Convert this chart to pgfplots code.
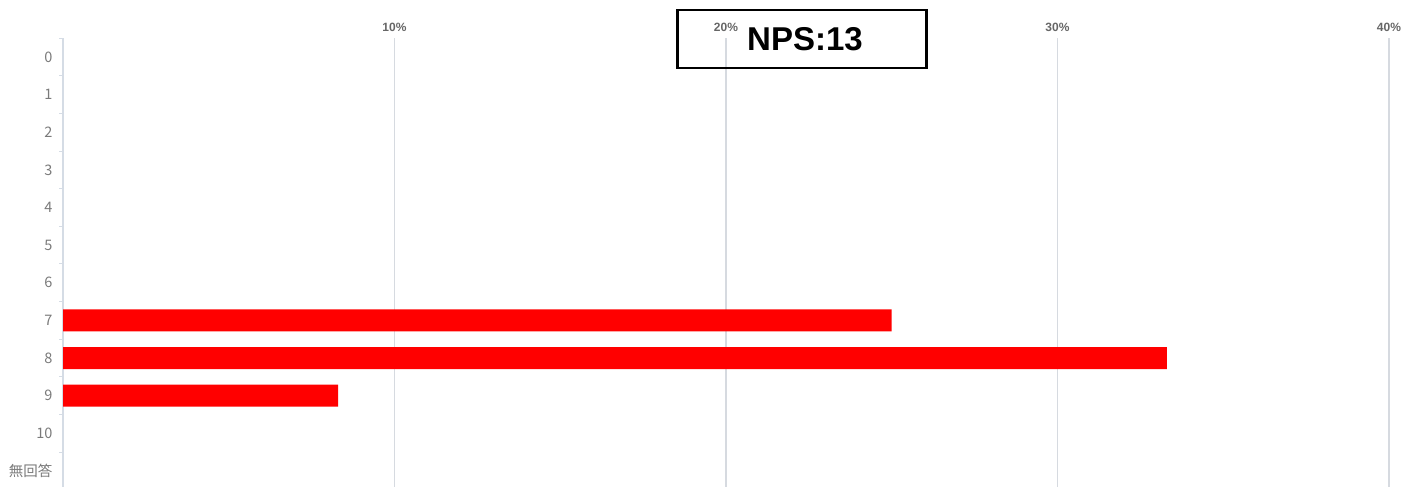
\documentclass[border=0pt]{standalone}
\usepackage{pgfplots}
\pgfplotsset{compat=1.18}
\usepackage{fontspec}
\setmainfont{Liberation Sans}
\newfontfamily\cjk{Noto Sans CJK JP}
\definecolor{barred}{HTML}{FF0000}
\definecolor{gridgray}{HTML}{D6DAE0}
\definecolor{axisgray}{HTML}{D5DCE5}
\definecolor{labgray}{HTML}{7A7A7A}
\definecolor{xlabgray}{HTML}{666666}
\begin{document}
\begin{tikzpicture}[x=1bp,y=1bp]
\useasboundingbox (0,0) rectangle (1417,487);
\begin{axis}[
  at={(63bp,0bp)}, anchor=south west,
  scale only axis, width=1326bp, height=448.9bp,
  xmin=0, xmax=40, ymin=-0.425, ymax=11.5,
  axis y line*=left, axis x line*=top,
  x axis line style={draw=none},
  y axis line style={draw=axisgray, line width=1.5bp},
  xtick={10,20,30,40},
  xticklabels={10\%,20\%,30\%,40\%},
  xticklabel style={font=\bfseries\fontsize{12bp}{12bp}\selectfont, text=xlabgray, anchor=base, yshift=6.5bp},
  xtick style={draw=none},
  ytick={0,...,11},
  yticklabels={{\cjk 無回答},10,9,8,7,6,5,4,3,2,1,0},
  yticklabel style={font=\cjk\fontsize{14.5bp}{14.5bp}\selectfont, text=labgray, anchor=east, xshift=-7bp},
  major tick length=0pt,
  minor ytick={0.5,1.5,...,11.5},
  minor tick length=4bp,
  tick align=outside,
  minor y tick style={draw=axisgray, line width=1bp},
  xmajorgrids,
  grid style={draw=gridgray, line width=1.5bp},
  clip=false,
]
\addplot[xbar, bar width=22bp, bar shift=0pt, fill=barred, draw=none]
  coordinates {(25,4) (33.3,3) (8.3,2)};
\end{axis}
\node[draw=black, line width=2.5bp, minimum width=249bp, minimum height=58bp, anchor=north west, inner sep=0pt] at (676,478) {};
\node[font=\bfseries\fontsize{33bp}{33bp}\selectfont, text=black] at (805,448) {NPS:13};
\end{tikzpicture}
\end{document}
